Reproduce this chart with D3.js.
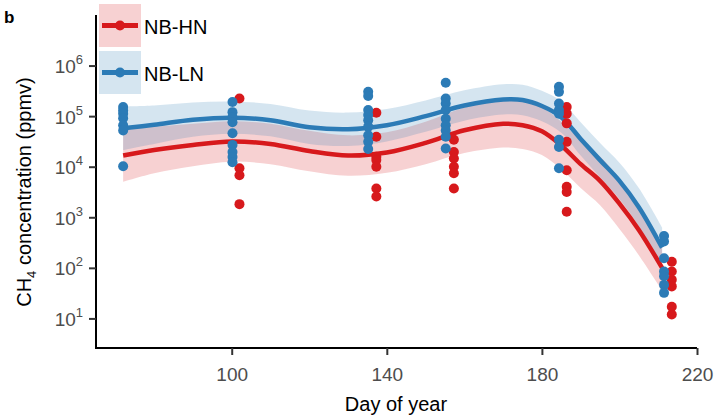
<!DOCTYPE html>
<html>
<head>
<meta charset="utf-8">
<script src="https://cdn.jsdelivr.net/npm/d3@7"></script>
<style>
  html, body { margin: 0; padding: 0; background: #fff; }
  svg { display: block; font-family: "Liberation Sans", Arial, sans-serif; }
</style>
</head>
<body>
<svg id="chart" width="715" height="417"></svg>
<script>
// ---- data -------------------------------------------------------------
const seriesNames = ["NB-HN", "NB-LN"];
const seriesColors = ["#d7191c", "#2c7bb6"];

// sampling days (points slightly dodged per treatment)
const hnDays = [102, 137.3, 157.3, 186.4, 213.5];
const lnDays = [72, 100.2, 135.2, 155.2, 184.4, 211.5];

// CH4 concentration observations (ppmv)
const hnValues = [
  [224000, 9300, 6800, 1820],
  [117000, 39000, 15800, 13500, 10000, 3700, 2570],
  [34000, 19500, 14500, 10000, 7400, 3700],
  [151000, 112000, 72000, 31000, 8500, 4000, 3160, 1290],
  [132, 85, 58, 43, 17, 12]
];
const lnValues = [
  [151000, 130000, 112000, 91000, 66000, 52000, 10200],
  [190000, 120000, 95000, 76000, 46000, 27000, 19500, 15500, 12300],
  [302000, 251000, 132000, 105000, 83000, 62000, 42000, 31000, 22400],
  [457000, 224000, 178000, 132000, 89000, 66000, 52000, 39000, 23000],
  [380000, 302000, 178000, 132000, 112000, 34000, 24500, 9300],
  [427, 331, 155, 85, 68, 46, 32]
];

// smoothed fit and confidence band, log10(ppmv)
const fitDays = [72, 80, 90, 100, 110, 120, 130, 140, 150, 160, 170, 175, 180, 185, 190, 195, 200, 205, 211];
const hnFit = [4.22, 4.33, 4.43, 4.50, 4.45, 4.31, 4.22, 4.28, 4.47, 4.72, 4.85, 4.82, 4.70, 4.42, 4.05, 3.72, 3.27, 2.75, 2.00];
const hnHi  = [4.74, 4.79, 4.85, 4.90, 4.85, 4.71, 4.62, 4.68, 4.89, 5.17, 5.32, 5.29, 5.17, 4.89, 4.52, 4.20, 3.77, 3.25, 2.45];
const hnLo  = [3.70, 3.87, 4.01, 4.10, 4.05, 3.91, 3.82, 3.88, 4.05, 4.27, 4.38, 4.35, 4.23, 3.95, 3.58, 3.24, 2.77, 2.25, 1.55];
const lnFit = [4.76, 4.83, 4.93, 4.97, 4.92, 4.78, 4.74, 4.82, 5.00, 5.21, 5.33, 5.32, 5.20, 4.98, 4.55, 4.13, 3.72, 3.20, 2.40];
const lnHi  = [5.19, 5.21, 5.27, 5.29, 5.24, 5.11, 5.07, 5.14, 5.31, 5.51, 5.63, 5.62, 5.50, 5.29, 4.88, 4.47, 4.08, 3.58, 2.80];
const lnLo  = [4.33, 4.45, 4.59, 4.65, 4.60, 4.45, 4.41, 4.50, 4.69, 4.91, 5.03, 5.02, 4.90, 4.67, 4.22, 3.79, 3.36, 2.82, 2.00];

const xTicks = [100, 140, 180, 220];
const yTicks = [1e1, 1e2, 1e3, 1e4, 1e5, 1e6];

// ---- layout -----------------------------------------------------------
const svg = d3.select("#chart");
const x = d3.scaleLinear().domain([65, 220]).range([96, 697]);
const y = d3.scaleLog().domain([2.6, 1e7]).range([348, 15]);

const series = [
  { name: seriesNames[0], color: seriesColors[0], days: hnDays, values: hnValues, fit: hnFit, hi: hnHi, lo: hnLo },
  { name: seriesNames[1], color: seriesColors[1], days: lnDays, values: lnValues, fit: lnFit, hi: lnHi, lo: lnLo }
];

const curve = d3.curveCatmullRom.alpha(0.5);
const band = d3.area()
  .x((d, i) => x(fitDays[i]))
  .y0(d => y(Math.pow(10, d[0])))
  .y1(d => y(Math.pow(10, d[1])))
  .curve(curve);
const line = d3.line()
  .x((d, i) => x(fitDays[i]))
  .y(d => y(Math.pow(10, d)))
  .curve(curve);

const plot = svg.append("g");

// confidence bands
series.forEach(s => {
  plot.append("path")
    .attr("d", band(s.lo.map((v, i) => [v, s.hi[i]])))
    .attr("fill", s.color)
    .attr("fill-opacity", 0.2);
});

// fitted lines
series.forEach(s => {
  plot.append("path")
    .attr("d", line(s.fit))
    .attr("fill", "none")
    .attr("stroke", s.color)
    .attr("stroke-width", 4.5)
    .attr("stroke-linecap", "butt");
});

// observations
series.forEach(s => {
  const pts = [];
  s.days.forEach((d, i) => s.values[i].forEach(v => pts.push([d, v])));
  plot.append("g").selectAll("circle").data(pts).join("circle")
    .attr("cx", d => x(d[0]))
    .attr("cy", d => y(d[1]))
    .attr("r", 5)
    .attr("fill", s.color);
});

// ---- axes -------------------------------------------------------------
const xAxis = svg.append("g")
  .attr("transform", "translate(0,348)")
  .call(d3.axisBottom(x).tickValues(xTicks).tickSize(7).tickSizeOuter(0).tickPadding(6));
xAxis.select(".domain").attr("stroke", "#000").attr("stroke-width", 2)
  .attr("d", `M${x.range()[0]},0H${x.range()[1]}`);
xAxis.selectAll(".tick line").attr("stroke", "#333").attr("stroke-width", 2);
xAxis.selectAll(".tick text")
  .attr("fill", "#4d4d4d")
  .attr("font-size", 19)
  .attr("font-family", "Liberation Sans, Arial, sans-serif")
  .attr("dy", "0.95em")
  .attr("y", 15);

const yAxis = svg.append("g")
  .attr("transform", "translate(96,0)")
  .call(d3.axisLeft(y).tickValues(yTicks).tickSize(7).tickSizeOuter(0).tickFormat(""));
yAxis.select(".domain").attr("stroke", "#000").attr("stroke-width", 2)
  .attr("d", `M0,${y.range()[1]}V${y.range()[0] + 1}`);
yAxis.selectAll(".tick line").attr("stroke", "#333").attr("stroke-width", 2);
yAxis.selectAll(".tick").each(function (d) {
  const t = d3.select(this).append("text")
    .attr("x", -13)
    .attr("y", 7)
    .attr("text-anchor", "end")
    .attr("fill", "#4d4d4d")
    .attr("font-size", 19)
    .attr("font-family", "Liberation Sans, Arial, sans-serif");
  t.append("tspan").text("10");
  t.append("tspan").attr("font-size", 13).attr("dy", -9).text(Math.round(Math.log10(d)));
});

// axis titles
svg.append("text")
  .attr("x", 396).attr("y", 411)
  .attr("text-anchor", "middle")
  .attr("font-size", 20)
  .attr("fill", "#000")
  .text("Day of year");

const yt = svg.append("text")
  .attr("transform", "translate(31,192) rotate(-90)")
  .attr("text-anchor", "middle")
  .attr("font-size", 20)
  .attr("fill", "#000");
yt.append("tspan").text("CH");
yt.append("tspan").attr("font-size", 13).attr("dy", 5).text("4");
yt.append("tspan").attr("dy", -5).text(" concentration (ppmv)");

// panel tag
svg.append("text")
  .attr("x", 4).attr("y", 23)
  .attr("font-size", 17)
  .attr("font-weight", "bold")
  .attr("fill", "#000")
  .text("b");

// ---- legend -----------------------------------------------------------
const legend = svg.append("g");
series.forEach((s, i) => {
  const top = 4 + i * 47;
  const g = legend.append("g").attr("transform", `translate(99,${top})`);
  g.append("rect").attr("width", 42).attr("height", 43)
    .attr("fill", s.color).attr("fill-opacity", 0.2);
  g.append("line").attr("x1", 3).attr("x2", 39).attr("y1", 21.5).attr("y2", 21.5)
    .attr("stroke", s.color).attr("stroke-width", 5);
  g.append("circle").attr("cx", 21).attr("cy", 21.5).attr("r", 5).attr("fill", s.color);
  g.append("text").attr("x", 45).attr("y", 29.5)
    .attr("font-size", 20).attr("fill", "#000").text(s.name);
});
</script>
</body>
</html>
